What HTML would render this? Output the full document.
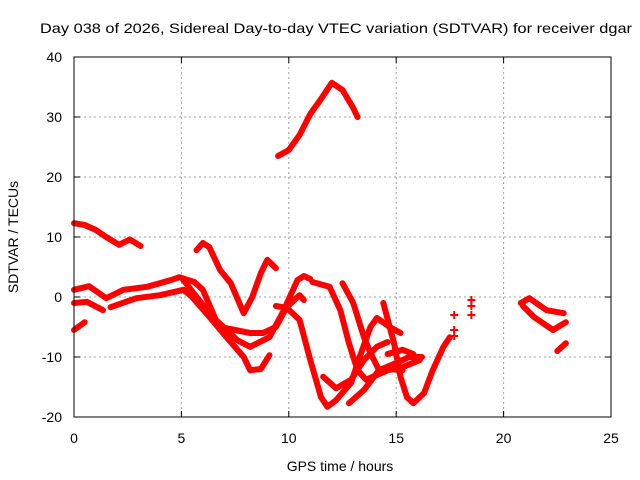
<!DOCTYPE html>
<html><head><meta charset="utf-8"><style>
html,body{margin:0;padding:0;background:#fff;}
svg{display:block;font-family:"Liberation Sans",sans-serif;}
</style></head><body>
<svg id="chart" width="640" height="480" viewBox="0 0 640 480">
<text x="336" y="33" font-size="14" text-anchor="middle" textLength="592" lengthAdjust="spacingAndGlyphs">Day 038 of 2026, Sidereal Day-to-day VTEC variation (SDTVAR) for receiver dgar</text>
<g id="grid"></g>
<g id="series"></g>
<rect x="74" y="57" width="537" height="360" fill="none" stroke="#000" stroke-width="1"/>
<g id="ticks" font-size="14"></g>
<text x="340" y="471" font-size="14" text-anchor="middle">GPS time / hours</text>
<text x="18" y="237" font-size="14" text-anchor="middle" transform="rotate(-90 18 237)">SDTVAR / TECUs</text>
</svg>
<script>
const xTicks=[0,5,10,15,20,25];
const yTicks=[-20,-10,0,10,20,30,40];
const s1=[[0,12.3],[0.5,12],[1,11.2],[1.5,10],[2.1,8.7],[2.6,9.6],[3.1,8.5]];
const s2=[[9.5,23.5],[10,24.5],[10.5,27],[11,30.5],[11.5,33],[12,35.7],[12.5,34.5],[13,31.5],[13.2,30]];
const s3=[[0,1.2],[0.7,1.8],[1.5,-0.2],[2.3,1.2],[3.4,1.7],[4.5,2.8],[4.9,3.3],[5.6,2.5],[6,1.2],[6.6,-3.8],[7.6,-7.2],[8.2,-8.3],[9.1,-6.7],[9.7,-2.7],[10.4,2.8],[10.7,3.5],[11,3]];
const s4=[[0,-1],[0.6,-0.8],[1.35,-2.2]];
const s5=[[1.7,-1.7],[2.9,-0.2],[4,0.3],[5.1,1.2],[5.5,0],[6.3,-3.3],[7.1,-6.7],[7.9,-10],[8.2,-12.2],[8.7,-12],[9.1,-9.7]];
const s6=[[5.1,2.8],[6.8,-5],[8.2,-6],[8.8,-6],[9.4,-5],[9.9,-1.7],[10.5,0.3],[10.7,-0.5]];
const s7=[[0,-5.5],[0.5,-4.2]];
const s8=[[5.7,7.8],[6,9],[6.3,8.3],[6.8,4.5],[7.3,2.3],[7.9,-2.7],[8.3,0],[8.7,4],[9,6.2],[9.4,4.8]];
const s9=[[9.4,-1.5],[9.9,-1.8],[10.5,-3.8],[11,-10.5],[11.5,-16.7],[11.8,-18.3],[12.2,-17.2],[12.9,-14.3],[13.3,-10],[13.8,-5],[14.1,-3.5],[14.7,-5],[15.2,-6]];
const s10=[[11.1,2.5],[11.9,1.7],[12.4,-2.2],[12.8,-7.7],[13.2,-12.2],[13.6,-13.8],[14.6,-12.2],[15.3,-11.7],[16.1,-10.5]];
const s11=[[11.6,-13.3],[12.2,-15.2],[12.9,-13.8],[13.5,-10.5],[14.1,-8.3],[14.6,-7.5]];
const s12=[[12.5,2.3],[13,-1],[13.5,-6.7],[13.8,-9.3],[14.2,-12.2],[14.7,-12],[15.3,-12.2]];
const s13=[[12.8,-17.7],[13.5,-15.5],[14.2,-12.2],[15,-11],[15.6,-10],[16.2,-10]];
const s14=[[14.4,-1],[14.9,-7.7],[15.2,-13.3],[15.5,-16.7],[15.8,-17.7],[16.3,-16],[16.7,-12.2],[17.2,-8.3],[17.5,-6.7]];
const s15=[[14.6,-9.5],[15.3,-8.8],[15.8,-9.5]];
const s16=[[20.8,-1],[21.2,-0.2],[22,-2.2],[22.8,-2.7]];
const s17=[[20.9,-1.5],[21.4,-3.3],[22.3,-5.5],[22.9,-4.2]];
const s18=[[22.5,-9],[22.9,-7.7]];
const isoX=[17.7,17.7,17.7,18.5,18.5,18.5];
const isoY=[-3,-5.5,-6.5,-0.5,-1.5,-3];
const allSeries=[s1,s2,s3,s4,s5,s6,s7,s8,s9,s10,s11,s12,s13,s14,s15,s16,s17,s18];
const NS="http://www.w3.org/2000/svg";
const X=h=>74+h*(537/25);
const Y=v=>297-v*6;
const grid=document.getElementById('grid'),ticks=document.getElementById('ticks'),ser=document.getElementById('series');
xTicks.forEach(t=>{
 if(t>0&&t<25){const l=document.createElementNS(NS,'line');
 
 
 l.setAttribute('x1',X(t));l.setAttribute('x2',X(t));l.setAttribute('y1',57);l.setAttribute('y2',417);
 l.setAttribute('stroke','#a0a0a0');l.setAttribute('stroke-dasharray','2,3');grid.appendChild(l);}
 const tk=document.createElementNS(NS,'path');
 
 
 tk.setAttribute('d',`M${X(t)} 417v-6M${X(t)} 57v6`);tk.setAttribute('stroke','#000');ticks.appendChild(tk);
 const tx=document.createElementNS(NS,'text');
 
 
 tx.setAttribute('x',X(t));tx.setAttribute('y',443);tx.setAttribute('text-anchor','middle');tx.textContent=t;ticks.appendChild(tx);
});
yTicks.forEach(t=>{
 if(t>-20&&t<40){const l=document.createElementNS(NS,'line');
 
 
 l.setAttribute('x1',74);l.setAttribute('x2',611);l.setAttribute('y1',Y(t));l.setAttribute('y2',Y(t));
 l.setAttribute('stroke','#a0a0a0');l.setAttribute('stroke-dasharray','2,3');grid.appendChild(l);}
 const tk=document.createElementNS(NS,'path');
 
 
 tk.setAttribute('d',`M74 ${Y(t)}h6M611 ${Y(t)}h-6`);tk.setAttribute('stroke','#000');ticks.appendChild(tk);
 const tx=document.createElementNS(NS,'text');
 
 
 tx.setAttribute('x',62);tx.setAttribute('y',Y(t)+5);tx.setAttribute('text-anchor','end');tx.textContent=t;ticks.appendChild(tx);
});
allSeries.forEach((s,i)=>{
 const p=document.createElementNS(NS,'polyline');
 
 
 p.setAttribute('points',s.map(d=>X(d[0])+','+Y(d[1])).join(' '));
 p.setAttribute('fill','none');p.setAttribute('stroke','#ff0000');p.setAttribute('stroke-width','6');
 p.setAttribute('stroke-linejoin','round');p.setAttribute('stroke-linecap','round');
 ser.appendChild(p);
});
isoX.forEach((h,i)=>{
 const p=document.createElementNS(NS,'path');
 
 
 const x=X(h),y=Y(isoY[i]);
 p.setAttribute('d',`M${x-4} ${y}h8M${x} ${y-4}v8`);
 p.setAttribute('stroke','#ff0000');p.setAttribute('stroke-width','2');
 ser.appendChild(p);
});
</script>
</body></html>
